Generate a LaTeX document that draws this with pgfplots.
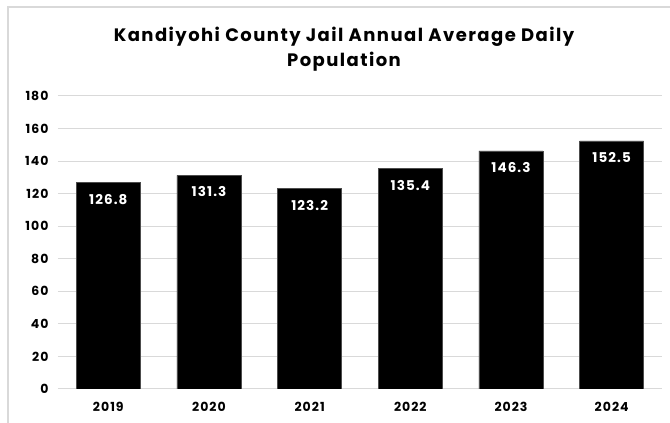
\documentclass[border=0pt]{standalone}
\usepackage{fontspec}
\setmainfont{Poppins}[LetterSpace=8]
\usepackage{pgfplots}
\pgfplotsset{compat=1.18}
\definecolor{gridgray}{RGB}{217,217,217}
\begin{document}
\begin{tikzpicture}[x=1pt,y=1pt]
\useasboundingbox (0,0) rectangle (670,423);
\draw[gridgray,line width=1.2pt] (8,0) -- (8,416) -- (670,416);
\node[font=\bfseries\fontsize{18}{25}\selectfont,align=center] at (344,374) {Kandiyohi County Jail Annual Average Daily\\Population};
\begin{axis}[
  at={(58pt,34pt)}, anchor=south west,
  scale only axis, width=604pt, height=293pt,
  xmin=-0.5, xmax=5.5, ymin=0, ymax=180,
  ybar, bar width=64pt,
  xtick=data, xticklabels={2019,2020,2021,2022,2023,2024},
  ytick={0,20,...,180},
  ymajorgrids, grid style={gridgray,line width=1pt},
  axis x line*=bottom, axis y line*=left,
  x axis line style={gridgray,line width=1pt},
  y axis line style={draw=none},
  major tick length=0pt,
  tick label style={font=\bfseries\fontsize{12.5}{15}\selectfont},
  /pgf/number format/assume math mode=true,
  yticklabel style={xshift=-6pt},
  xticklabel style={yshift=-10pt},
  nodes near coords,
  nodes near coords style={font=\bfseries\fontsize{13.5}{16}\selectfont,text=white,anchor=north,yshift=-8pt,/pgf/number format/.cd,fixed,fixed zerofill,precision=1,assume math mode=true},
  point meta=y,
]
\addplot[fill=black,draw=black!70] coordinates {(0,126.8) (1,131.3) (2,123.2) (3,135.4) (4,146.3) (5,152.5)};
\end{axis}
\end{tikzpicture}
\end{document}
